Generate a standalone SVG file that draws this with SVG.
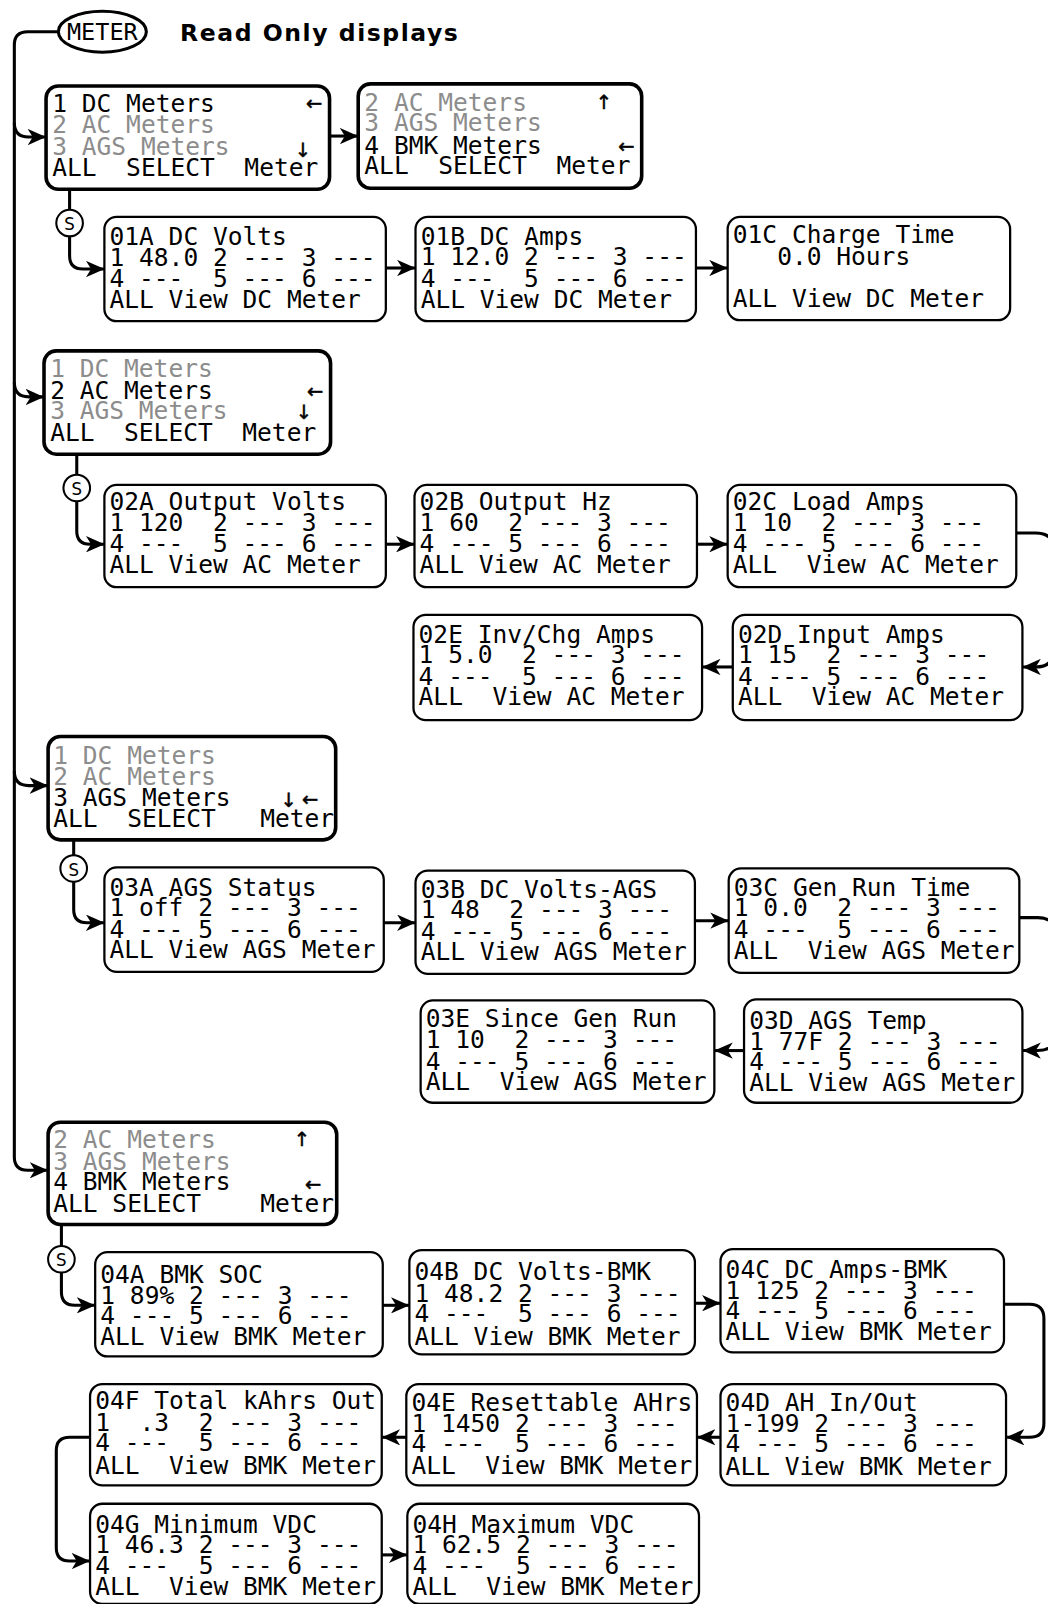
<svg xmlns="http://www.w3.org/2000/svg" width="1048" height="1604" viewBox="0 0 1048 1604" xml:space="preserve">
<style>
.t{font-family:"DejaVu Sans Mono","Liberation Mono",monospace;font-size:24px;fill:#000;white-space:pre}
.g{fill:#8c8c8c}
.ar{font-family:"DejaVu Sans","Noto Sans",sans-serif;font-size:19px;fill:#000;stroke:#000;stroke-width:0.5}
.menu{fill:#fff;stroke:#000;stroke-width:3.5}
.box{fill:#fff;stroke:#000;stroke-width:2.2}
.c{fill:none;stroke:#000;stroke-width:3}
.a{marker-end:url(#ah)}
.s{fill:#fff;stroke:#000;stroke-width:2}
.title{font-family:"DejaVu Sans",Verdana,sans-serif;font-weight:bold;font-size:23px;letter-spacing:1.5px}
</style>
<defs>
<marker id="ah" viewBox="0 0 18 16" refX="18" refY="8" markerWidth="18" markerHeight="16" markerUnits="userSpaceOnUse" orient="auto">
<path d="M0,0 L18,8 L0,16 L5,8 z" fill="#000"/>
</marker>
</defs>
<rect width="1048" height="1604" fill="#fff"/>
<g transform="scale(1.0234375 1.0229592)">
<g id="connectors">
<path class="c" d="M56,31 H27 Q14,31 14,44 V1131 Q14,1144 27,1144 H47" marker-end="url(#ah)"/>
<path class="c a" d="M14,120 Q14,134 28,134 H45"/>
<path class="c a" d="M14,374 Q14,388 28,388 H43"/>
<path class="c a" d="M14,754 Q14,768 28,768 H47"/>
<path class="c a" d="M322,133 H350"/>
<path class="c" d="M68,185 V205"/>
<path class="c a" d="M68,231 V250 Q68,263 81,263 H102"/>
<path class="c a" d="M377,262 H406"/>
<path class="c a" d="M680,262 H711"/>
<path class="c" d="M75,444 V464"/>
<path class="c a" d="M75,490 V519 Q75,532 88,532 H102"/>
<path class="c a" d="M377,532 H405"/>
<path class="c a" d="M681,532 H711"/>
<path class="c a" d="M993,521 H1012 Q1030,521 1030,539 V634 Q1030,652 1012,652 H999"/>
<path class="c a" d="M716,652 H686"/>
<path class="c" d="M72,821 V836"/>
<path class="c a" d="M72,862 V889 Q72,902 85,902 H102"/>
<path class="c a" d="M375,902 H406"/>
<path class="c a" d="M679,900 H712"/>
<path class="c a" d="M996,897 H1014 Q1032,897 1032,915 V1009 Q1032,1027 1014,1027 H999"/>
<path class="c a" d="M727,1027 H698"/>
<path class="c" d="M60,1197 V1218"/>
<path class="c a" d="M60,1244 V1263 Q60,1276 73,1276 H93"/>
<path class="c a" d="M374,1276 H400"/>
<path class="c a" d="M679,1274 H704"/>
<path class="c a" d="M981,1275 H1006 Q1020,1275 1020,1289 V1391 Q1020,1405 1006,1405 H983"/>
<path class="c a" d="M704,1405 H681"/>
<path class="c a" d="M397,1405 H373"/>
<path class="c a" d="M88,1405 H68 Q55,1405 55,1418 V1513 Q55,1526 68,1526 H88"/>
<path class="c a" d="M373,1520 H398"/>
</g>
<g id="meter"><ellipse cx="100" cy="31" rx="43" ry="20" fill="#fff" stroke="#000" stroke-width="3"/><text class="t" x="100" y="39" text-anchor="middle" style="font-size:23px">METER</text></g>
<text class="title" x="176" y="40">Read Only displays</text>
<g id="s1"><circle class="s" cx="68" cy="218" r="13"/><text class="t" x="68" y="225" text-anchor="middle" style="font-size:18px">S</text></g>
<g id="s2"><circle class="s" cx="75" cy="477" r="13"/><text class="t" x="75" y="484" text-anchor="middle" style="font-size:18px">S</text></g>
<g id="s3"><circle class="s" cx="72" cy="849" r="13"/><text class="t" x="72" y="856" text-anchor="middle" style="font-size:18px">S</text></g>
<g id="s4"><circle class="s" cx="60" cy="1231" r="13"/><text class="t" x="60" y="1238" text-anchor="middle" style="font-size:18px">S</text></g>

<g id="menu1"><rect class="menu" x="45" y="84" width="277" height="101" rx="12"/>
<text class="t" x="51" y="109.5">1 DC Meters</text><text class="t g" x="51" y="130.5">2 AC Meters</text><text class="t g" x="51" y="151.5">3 AGS Meters</text><text class="t" x="51" y="172.5">ALL  SELECT  Meter</text>
<text class="ar" x="299" y="108">←</text><text class="ar" x="288" y="153">↓</text></g>
<g id="menu2"><rect class="menu" x="350" y="82" width="277" height="102" rx="12"/>
<text class="t g" x="356" y="108.5">2 AC Meters</text><text class="t g" x="356" y="128.5">3 AGS Meters</text><text class="t" x="356" y="150.5">4 BMK Meters</text><text class="t" x="356" y="170.5">ALL  SELECT  Meter</text>
<text class="ar" x="582" y="107">↑</text><text class="ar" x="604" y="150">←</text></g>
<g id="menu3"><rect class="menu" x="43" y="343" width="280" height="101" rx="12"/>
<text class="t g" x="49" y="368.5">1 DC Meters</text><text class="t" x="49" y="390.5">2 AC Meters</text><text class="t g" x="49" y="409.5">3 AGS Meters</text><text class="t" x="49" y="431.5">ALL  SELECT  Meter</text>
<text class="ar" x="300" y="389">←</text><text class="ar" x="289" y="410">↓</text></g>
<g id="menu4"><rect class="menu" x="47" y="720" width="281" height="101" rx="12"/>
<text class="t g" x="52" y="746.5">1 DC Meters</text><text class="t g" x="52" y="767.5">2 AC Meters</text><text class="t" x="52" y="787.5">3 AGS Meters</text><text class="t" x="52" y="808.5">ALL  SELECT   Meter</text>
<text class="ar" x="274" y="789">↓</text><text class="ar" x="295" y="788">←</text></g>
<g id="menu5"><rect class="menu" x="47" y="1097" width="282" height="100" rx="12"/>
<text class="t g" x="52" y="1122.5">2 AC Meters</text><text class="t g" x="52" y="1143.5">3 AGS Meters</text><text class="t" x="52" y="1163.5">4 BMK Meters</text><text class="t" x="52" y="1184.5">ALL SELECT    Meter</text>
<text class="ar" x="287" y="1120">↑</text><text class="ar" x="298" y="1164">←</text></g>

<g id="n01A"><rect class="box" x="102" y="212" width="275" height="102" rx="12"/>
<text class="t" x="107" y="239.5">01A DC Volts</text><text class="t" x="107" y="260.5">1 48.0 2 --- 3 ---</text><text class="t" x="107" y="280.5">4 ---  5 --- 6 ---</text><text class="t" x="107" y="301.5">ALL View DC Meter</text></g>
<g id="n01B"><rect class="box" x="406" y="212" width="274" height="102" rx="12"/>
<text class="t" x="411" y="239.5">01B DC Amps</text><text class="t" x="411" y="259.5">1 12.0 2 --- 3 ---</text><text class="t" x="411" y="280.5">4 ---  5 --- 6 ---</text><text class="t" x="411" y="301.5">ALL View DC Meter</text></g>
<g id="n01C"><rect class="box" x="711" y="212" width="276" height="101" rx="12"/>
<text class="t" x="716" y="237.5">01C Charge Time</text><text class="t" x="716" y="259.5">   0.0 Hours</text><text class="t" x="716" y="300.5">ALL View DC Meter</text></g>

<g id="n02A"><rect class="box" x="102" y="474" width="275" height="100" rx="12"/>
<text class="t" x="107" y="498.5">02A Output Volts</text><text class="t" x="107" y="519.5">1 120  2 --- 3 ---</text><text class="t" x="107" y="539.5">4 ---  5 --- 6 ---</text><text class="t" x="107" y="560.5">ALL View AC Meter</text></g>
<g id="n02B"><rect class="box" x="405" y="474" width="276" height="100" rx="12"/>
<text class="t" x="410" y="498.5">02B Output Hz</text><text class="t" x="410" y="519.5">1 60  2 --- 3 ---</text><text class="t" x="410" y="539.5">4 --- 5 --- 6 ---</text><text class="t" x="410" y="560.5">ALL View AC Meter</text></g>
<g id="n02C"><rect class="box" x="711" y="474" width="282" height="100" rx="12"/>
<text class="t" x="716" y="498.5">02C Load Amps</text><text class="t" x="716" y="519.5">1 10  2 --- 3 ---</text><text class="t" x="716" y="539.5">4 --- 5 --- 6 ---</text><text class="t" x="716" y="560.5">ALL  View AC Meter</text></g>
<g id="n02D"><rect class="box" x="716" y="601" width="283" height="103" rx="12"/>
<text class="t" x="721" y="628.5">02D Input Amps</text><text class="t" x="721" y="648.5">1 15  2 --- 3 ---</text><text class="t" x="721" y="669.5">4 --- 5 --- 6 ---</text><text class="t" x="721" y="689.5">ALL  View AC Meter</text></g>
<g id="n02E"><rect class="box" x="404" y="601" width="282" height="103" rx="12"/>
<text class="t" x="409" y="628.5">02E Inv/Chg Amps</text><text class="t" x="409" y="648.5">1 5.0  2 --- 3 ---</text><text class="t" x="409" y="669.5">4 ---  5 --- 6 ---</text><text class="t" x="409" y="689.5">ALL  View AC Meter</text></g>

<g id="n03A"><rect class="box" x="102" y="848" width="273" height="102" rx="12"/>
<text class="t" x="107" y="875.5">03A AGS Status</text><text class="t" x="107" y="895.5">1 off 2 --- 3 ---</text><text class="t" x="107" y="916.5">4 --- 5 --- 6 ---</text><text class="t" x="107" y="936.5">ALL View AGS Meter</text></g>
<g id="n03B"><rect class="box" x="406" y="851" width="273" height="101" rx="12"/>
<text class="t" x="411" y="877.5">03B DC Volts-AGS</text><text class="t" x="411" y="897.5">1 48  2 --- 3 ---</text><text class="t" x="411" y="918.5">4 --- 5 --- 6 ---</text><text class="t" x="411" y="938.5">ALL View AGS Meter</text></g>
<g id="n03C"><rect class="box" x="712" y="849" width="284" height="102" rx="12"/>
<text class="t" x="717" y="875.5">03C Gen Run Time</text><text class="t" x="717" y="895.5">1 0.0  2 --- 3 ---</text><text class="t" x="717" y="916.5">4 ---  5 --- 6 ---</text><text class="t" x="717" y="937.5">ALL  View AGS Meter</text></g>
<g id="n03D"><rect class="box" x="727" y="977" width="272" height="101" rx="12"/>
<text class="t" x="732" y="1005.5">03D AGS Temp</text><text class="t" x="732" y="1026.5">1 77F 2 --- 3 ---</text><text class="t" x="732" y="1045.5">4 --- 5 --- 6 ---</text><text class="t" x="732" y="1066.5">ALL View AGS Meter</text></g>
<g id="n03E"><rect class="box" x="411" y="978" width="287" height="100" rx="12"/>
<text class="t" x="416" y="1003.5">03E Since Gen Run</text><text class="t" x="416" y="1024.5">1 10  2 --- 3 ---</text><text class="t" x="416" y="1045.5">4 --- 5 --- 6 ---</text><text class="t" x="416" y="1065.5">ALL  View AGS Meter</text></g>

<g id="n04A"><rect class="box" x="93" y="1224" width="281" height="102" rx="12"/>
<text class="t" x="98" y="1254.5">04A BMK SOC</text><text class="t" x="98" y="1274.5">1 89% 2 --- 3 ---</text><text class="t" x="98" y="1294.5">4 --- 5 --- 6 ---</text><text class="t" x="98" y="1314.5">ALL View BMK Meter</text></g>
<g id="n04B"><rect class="box" x="400" y="1222" width="279" height="102" rx="12"/>
<text class="t" x="405" y="1251.5">04B DC Volts-BMK</text><text class="t" x="405" y="1272.5">1 48.2 2 --- 3 ---</text><text class="t" x="405" y="1292.5">4 ---  5 --- 6 ---</text><text class="t" x="405" y="1314.5">ALL View BMK Meter</text></g>
<g id="n04C"><rect class="box" x="704" y="1221" width="277" height="101" rx="12"/>
<text class="t" x="709" y="1249.5">04C DC Amps-BMK</text><text class="t" x="709" y="1269.5">1 125 2 --- 3 ---</text><text class="t" x="709" y="1289.5">4 --- 5 --- 6 ---</text><text class="t" x="709" y="1309.5">ALL View BMK Meter</text></g>
<g id="n04D"><rect class="box" x="704" y="1353" width="279" height="99" rx="12"/>
<text class="t" x="709" y="1379.5">04D AH In/Out</text><text class="t" x="709" y="1399.5">1-199 2 --- 3 ---</text><text class="t" x="709" y="1419.5">4 --- 5 --- 6 ---</text><text class="t" x="709" y="1441.5">ALL View BMK Meter</text></g>
<g id="n04E"><rect class="box" x="397" y="1353" width="284" height="99" rx="12"/>
<text class="t" x="402" y="1379.5">04E Resettable AHrs</text><text class="t" x="402" y="1399.5">1 1450 2 --- 3 ---</text><text class="t" x="402" y="1419.5">4 ---  5 --- 6 ---</text><text class="t" x="402" y="1440.5">ALL  View BMK Meter</text></g>
<g id="n04F"><rect class="box" x="88" y="1353" width="285" height="99" rx="12"/>
<text class="t" x="93" y="1377.5">04F Total kAhrs Out</text><text class="t" x="93" y="1398.5">1  .3  2 --- 3 ---</text><text class="t" x="93" y="1418.5">4 ---  5 --- 6 ---</text><text class="t" x="93" y="1440.5">ALL  View BMK Meter</text></g>
<g id="n04G"><rect class="box" x="88" y="1470" width="285" height="98" rx="12"/>
<text class="t" x="93" y="1498.5">04G Minimum VDC</text><text class="t" x="93" y="1518.5">1 46.3 2 --- 3 ---</text><text class="t" x="93" y="1538.5">4 ---  5 --- 6 ---</text><text class="t" x="93" y="1559.5">ALL  View BMK Meter</text></g>
<g id="n04H"><rect class="box" x="398" y="1470" width="285" height="98" rx="12"/>
<text class="t" x="403" y="1498.5">04H Maximum VDC</text><text class="t" x="403" y="1518.5">1 62.5 2 --- 3 ---</text><text class="t" x="403" y="1538.5">4 ---  5 --- 6 ---</text><text class="t" x="403" y="1559.5">ALL  View BMK Meter</text></g>
</g>
</svg>
